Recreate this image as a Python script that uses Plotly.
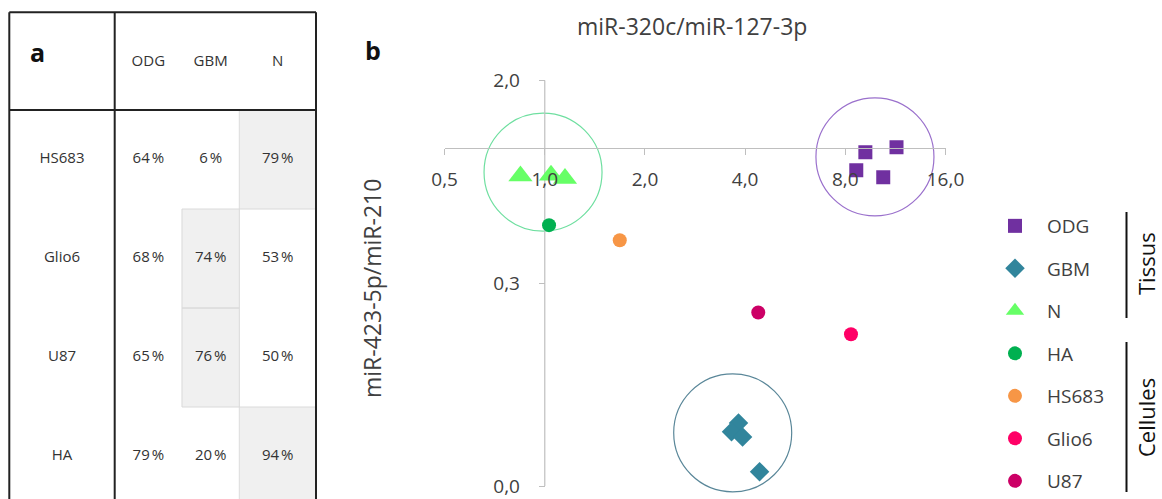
import math
import plotly.graph_objects as go

W, H = 1162, 499
FONT = "Open Sans"
TXT = "#404040"

# ---------------- data: table (panel a) ----------------
table_rows = ["HS683", "Glio6", "U87", "HA"]
table_cols = ["ODG", "GBM", "N"]
pct_odg = [64, 68, 65, 79]
pct_gbm = [6, 74, 76, 20]
pct_n = [79, 53, 50, 94]

# ---------------- data: scatter (panel b) ----------------
odg_x = [9.19, 11.4, 8.63, 10.4]
odg_y = [0.957, 1.007, 0.796, 0.74]
gbm_x = [3.82, 3.64, 3.93, 4.42]
gbm_y = [0.0596, 0.0545, 0.0517, 0.0362]
n_x = [0.845, 1.044, 1.15]
n_y = [0.750, 0.755, 0.730]
ha_x = [1.03]
ha_y = [0.453]
hs683_x = [1.68]
hs683_y = [0.388]
glio6_x = [8.32]
glio6_y = [0.148]
u87_x = [4.38]
u87_y = [0.185]

cluster_names = ["N", "ODG", "GBM"]
cluster_x = [0.988, 9.82, 3.67]
cluster_y = [0.78, 0.912, 0.0539]

x_tickvals = [0.5, 1, 2, 4, 8, 16]
x_ticktext = ["0,5", "1,0", "2,0", "4,0", "8,0", "16,0"]
y_tickvals = [0.03125, 0.25, 2]
y_ticktext = ["0,0", "0,3", "2,0"]

# ---------------- layout geometry (pixels) ----------------
def px(x):
    return x / W

def py(y):
    return 1 - y / H

x_left_px, x_right_px = 444.6, 945.5
x_per_log2 = (x_right_px - x_left_px) / 5.0
y_top_px, y_bot_px = 80.3, 486.0
y_per_log2 = (y_bot_px - y_top_px) / 6.0
y_min_val = 0.029
y_bot_ext = y_top_px + y_per_log2 * (math.log2(2) - math.log2(y_min_val))

xpos_of_one = x_left_px + x_per_log2 * 1.0
ypos_of_one = y_top_px + y_per_log2 * 1.0

circle_r_px = 59.0

fig = go.Figure()

colors = {
    "ODG": "#7030A0", "GBM": "#31859C", "N": "#66FF66",
    "HA": "#00B050", "HS683": "#F79646", "Glio6": "#FF0066", "U87": "#CC0066",
}
series = [
    ("ODG", odg_x, odg_y, "square", 14),
    ("GBM", gbm_x, gbm_y, "diamond", 15),
    ("N", n_x, n_y, "triangle-up", 21),
    ("HA", ha_x, ha_y, "circle", 14),
    ("HS683", hs683_x, hs683_y, "circle", 14),
    ("Glio6", glio6_x, glio6_y, "circle", 14),
    ("U87", u87_x, u87_y, "circle", 14),
]
for name, xs, ys, sym, sz in series:
    fig.add_trace(go.Scatter(
        x=xs, y=ys, mode="markers", name=name, legendgroup=name,
        marker=dict(symbol=sym, size=sz, color=colors[name], line=dict(width=0)),
        xaxis="x", yaxis="y",
    ))

# ---------------- table via heatmap + text on pixel axes ----------------
col_edges = [114.7, 182.0, 239.3, 316.0]
row_edges = [110.0, 209.0, 308.0, 407.0, 506.0]
label_col_center = 62.0
header_y = 62.0
col_centers = [(col_edges[i] + col_edges[i + 1]) / 2 for i in range(3)]
row_centers = [(row_edges[i] + row_edges[i + 1]) / 2 for i in range(4)]

vals = [list(r) for r in zip(pct_odg, pct_gbm, pct_n)]
z = [[1 if v == max(r) else 0 for v in r] for r in vals]
fig.add_trace(go.Heatmap(
    x=col_edges, y=row_edges, z=z, xaxis="x2", yaxis="y2",
    colorscale=[[0, "rgba(255,255,255,0)"], [1, "#F0F0F0"]],
    zmin=0, zmax=1, showscale=False, hoverinfo="skip",
))
tx, ty, tt = [], [], []
for i, r in enumerate(vals):
    for j, v in enumerate(r):
        tx.append(col_centers[j]); ty.append(row_centers[i]); tt.append(f"{v}\u202f%")
for i, name in enumerate(table_rows):
    tx.append(label_col_center); ty.append(row_centers[i]); tt.append(name)
for j, name in enumerate(table_cols):
    tx.append(col_centers[j]); ty.append(header_y); tt.append(name)
fig.add_trace(go.Scatter(
    x=tx, y=ty, text=tt, mode="text", xaxis="x2", yaxis="y2",
    textfont=dict(family=FONT, size=15, color="#333333"),
    showlegend=False, hoverinfo="skip",
))

shapes = []
for i, r in enumerate(z):
    for j, v in enumerate(r):
        if v:
            shapes.append(dict(type="rect", xref="x2", yref="y2",
                               x0=col_edges[j], x1=col_edges[j + 1],
                               y0=row_edges[i], y1=row_edges[i + 1],
                               line=dict(color="#DADADA", width=1)))
tl, tt_, tr, tb = 9.3, 12.3, 316.0, 520.0
for (x0, y0, x1, y1) in [(tl, tt_, tr, tt_), (tl, tt_, tl, tb), (tr, tt_, tr, tb),
                         (col_edges[0], tt_, col_edges[0], tb), (tl, 110.0, tr, 110.0)]:
    shapes.append(dict(type="line", xref="x2", yref="y2", x0=x0, y0=y0, x1=x1, y1=y1,
                       line=dict(color="#222222", width=2)))

# cluster circles (radius fixed in pixels, converted to log2 spans)
rx = circle_r_px / x_per_log2
ry = circle_r_px / y_per_log2
circle_colors = ["#6FDFA0", "#9A70CC", "#5A8799"]
for cx, cy, cc in zip(cluster_x, cluster_y, circle_colors):
    shapes.append(dict(type="circle", xref="x", yref="y",
                       x0=cx / 2 ** rx, x1=cx * 2 ** rx, y0=cy / 2 ** ry, y1=cy * 2 ** ry,
                       line=dict(color=cc, width=1.2), layer="below"))
# y axis line
shapes.append(dict(type="line", xref="x", yref="y", x0=1, x1=1, y0=y_tickvals[0], y1=y_tickvals[-1],
                   line=dict(color="#BFBFBF", width=1.2), layer="below"))
# legend group brackets
shapes.append(dict(type="line", xref="paper", yref="paper", x0=px(1126.5), x1=px(1126.5),
                   y0=py(212), y1=py(318), line=dict(color="#111111", width=2)))
shapes.append(dict(type="line", xref="paper", yref="paper", x0=px(1126.5), x1=px(1126.5),
                   y0=py(342), y1=py(492), line=dict(color="#111111", width=2)))

def ann(text, x, y, size, color=TXT, angle=0):
    return dict(text=text, x=px(x), y=py(y), xref="paper", yref="paper", showarrow=False,
                xanchor="center", yanchor="middle", textangle=angle,
                font=dict(family=FONT, size=size, color=color))

annotations = [
    ann("<b>a</b>", 37, 52, 25, "#111111"),
    ann("<b>b</b>", 373, 50, 25, "#111111"),
    ann("miR-320c/miR-127-3p", 692, 26, 23),
    ann("miR-423-5p/miR-210", 372, 289, 23, angle=-90),
    ann("Tissus", 1146, 264, 22, "#111111", -90),
    ann("Cellules", 1146, 418, 22, "#111111", -90),
]

fig.update_layout(
    width=W, height=H, margin=dict(l=0, r=0, t=0, b=0, autoexpand=False),
    paper_bgcolor="white", plot_bgcolor="rgba(0,0,0,0)",
    font=dict(family=FONT, color=TXT),
    xaxis=dict(type="log", range=[math.log10(0.5), math.log10(16)],
               domain=[px(x_left_px), px(x_right_px)], anchor="free", position=py(ypos_of_one),
               tickvals=x_tickvals, ticktext=x_ticktext, ticks="outside", ticklen=6,
               tickcolor="#BFBFBF", showline=True, linecolor="#BFBFBF", linewidth=1.2,
               showgrid=False, zeroline=False, ticklabelstandoff=8,
               tickfont=dict(family=FONT, size=19, color=TXT)),
    yaxis=dict(type="log", range=[math.log10(y_min_val), math.log10(2)],
               domain=[py(y_bot_ext), py(y_top_px)], anchor="free", position=px(xpos_of_one),
               tickvals=y_tickvals, ticktext=y_ticktext, ticks="outside", ticklen=6,
               tickcolor="#BFBFBF", showline=False, showgrid=False, zeroline=False,
               ticklabelstandoff=15, tickfont=dict(family=FONT, size=19, color=TXT)),
    xaxis2=dict(domain=[0, 1], range=[0, W], visible=False, anchor="y2", fixedrange=True),
    yaxis2=dict(domain=[0, 1], range=[H, 0], visible=False, anchor="x2", fixedrange=True),
    legend=dict(x=px(983), y=py(207), xanchor="left", yanchor="top",
                font=dict(family=FONT, size=19, color=TXT), traceorder="grouped",
                tracegroupgap=14.8, bgcolor="rgba(0,0,0,0)", itemwidth=54),
    shapes=shapes, annotations=annotations,
)

fig.write_html("out.html", config={"displayModeBar": False},
               post_script="document.body.style.margin='0';document.body.style.overflow='hidden';")
